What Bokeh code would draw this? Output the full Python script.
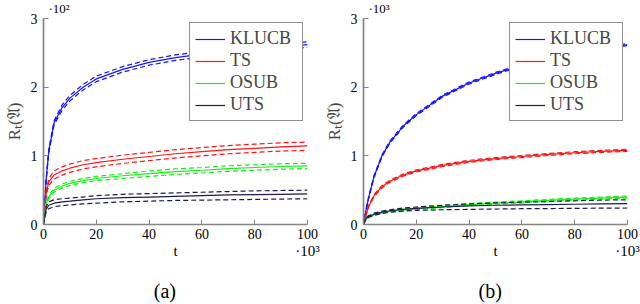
from bokeh.plotting import figure
from bokeh.models import Legend, LegendItem, Range1d, FixedTicker, LinearAxis, Title
from bokeh.layouts import row
from bokeh.embed import file_html
from bokeh.resources import INLINE

# time axis, in thousands of rounds
t = [0, 1, 2, 4, 7, 10, 15, 20, 30, 40, 50, 60, 70, 80, 90, 100]

# panel (a), regret in units of 10^2
a_klucb    = [0, 0.65, 1.07, 1.48, 1.70, 1.84, 2.00, 2.12, 2.26, 2.36, 2.43, 2.48, 2.52, 2.56, 2.59, 2.62]
a_klucb_hi = [0, 0.67, 1.10, 1.51, 1.74, 1.88, 2.04, 2.16, 2.30, 2.40, 2.47, 2.52, 2.56, 2.60, 2.63, 2.66]
a_klucb_lo = [0, 0.63, 1.04, 1.45, 1.66, 1.80, 1.96, 2.08, 2.22, 2.32, 2.39, 2.44, 2.48, 2.52, 2.55, 2.58]
a_ts       = [0, 0.45, 0.62, 0.72, 0.78, 0.82, 0.87, 0.90, 0.95, 0.99, 1.03, 1.06, 1.09, 1.11, 1.13, 1.145]
a_ts_hi    = [0, 0.48, 0.67, 0.78, 0.84, 0.88, 0.93, 0.96, 1.01, 1.05, 1.09, 1.12, 1.15, 1.17, 1.19, 1.20]
a_ts_lo    = [0, 0.42, 0.57, 0.66, 0.72, 0.76, 0.81, 0.84, 0.89, 0.93, 0.97, 1.00, 1.03, 1.05, 1.07, 1.08]
a_osub     = [0, 0.30, 0.40, 0.50, 0.56, 0.60, 0.64, 0.67, 0.71, 0.74, 0.77, 0.79, 0.815, 0.83, 0.845, 0.855]
a_osub_hi  = [0, 0.32, 0.43, 0.53, 0.59, 0.63, 0.67, 0.70, 0.74, 0.78, 0.81, 0.83, 0.855, 0.87, 0.885, 0.89]
a_osub_lo  = [0, 0.28, 0.37, 0.47, 0.53, 0.57, 0.61, 0.64, 0.67, 0.70, 0.73, 0.75, 0.775, 0.79, 0.805, 0.815]
a_uts      = [0, 0.22, 0.28, 0.31, 0.33, 0.34, 0.36, 0.375, 0.39, 0.40, 0.41, 0.42, 0.43, 0.435, 0.44, 0.445]
a_uts_hi   = [0, 0.26, 0.33, 0.36, 0.375, 0.385, 0.40, 0.42, 0.44, 0.45, 0.46, 0.47, 0.48, 0.49, 0.495, 0.50]
a_uts_lo   = [0, 0.18, 0.23, 0.26, 0.275, 0.285, 0.30, 0.31, 0.33, 0.34, 0.35, 0.355, 0.36, 0.365, 0.37, 0.375]

# panel (b), regret in units of 10^3
b_klucb    = [0, 0.22, 0.40, 0.70, 1.00, 1.20, 1.43, 1.60, 1.87, 2.06, 2.20, 2.32, 2.42, 2.50, 2.56, 2.62]
b_klucb_hi = [0, 0.23, 0.415, 0.715, 1.015, 1.215, 1.445, 1.615, 1.885, 2.075, 2.215, 2.335, 2.435, 2.515, 2.575, 2.635]
b_klucb_lo = [0, 0.21, 0.385, 0.685, 0.985, 1.185, 1.415, 1.585, 1.855, 2.045, 2.185, 2.305, 2.405, 2.485, 2.545, 2.605]
b_ts       = [0, 0.15, 0.27, 0.42, 0.55, 0.63, 0.72, 0.78, 0.86, 0.92, 0.96, 0.99, 1.02, 1.045, 1.065, 1.08]
b_ts_hi    = [0, 0.16, 0.28, 0.435, 0.565, 0.645, 0.735, 0.795, 0.875, 0.935, 0.975, 1.005, 1.035, 1.06, 1.08, 1.095]
b_ts_lo    = [0, 0.14, 0.26, 0.405, 0.535, 0.615, 0.705, 0.765, 0.845, 0.905, 0.945, 0.975, 1.005, 1.03, 1.05, 1.065]
b_osub     = [0, 0.08, 0.11, 0.14, 0.17, 0.19, 0.21, 0.23, 0.26, 0.29, 0.31, 0.33, 0.35, 0.37, 0.385, 0.40]
b_osub_hi  = [0, 0.085, 0.12, 0.15, 0.18, 0.20, 0.225, 0.245, 0.275, 0.305, 0.325, 0.345, 0.365, 0.385, 0.40, 0.415]
b_osub_lo  = [0, 0.075, 0.10, 0.13, 0.16, 0.18, 0.195, 0.215, 0.245, 0.275, 0.295, 0.315, 0.335, 0.355, 0.37, 0.385]
b_uts      = [0, 0.09, 0.12, 0.15, 0.18, 0.20, 0.22, 0.235, 0.255, 0.27, 0.28, 0.285, 0.29, 0.295, 0.30, 0.305]
b_uts_hi   = [0, 0.10, 0.13, 0.165, 0.195, 0.215, 0.24, 0.255, 0.28, 0.30, 0.315, 0.325, 0.335, 0.345, 0.355, 0.36]
b_uts_lo   = [0, 0.08, 0.11, 0.135, 0.16, 0.18, 0.195, 0.205, 0.215, 0.22, 0.225, 0.23, 0.232, 0.235, 0.238, 0.24]

names = ["KLUCB", "TS", "OSUB", "UTS"]
colors = ["#1414ff", "#ff1414", "#14f014", "#1c1c4c"]
x_ticks = [0, 20, 40, 60, 80, 100]
y_ticks = [0, 1, 2, 3]
x_name_ticks = {50: "t", 100: "·10³"}

FONT = "Liberation Serif"
FIG_W, FIG_H = 320, 304
LEFT, RIGHT, TOP, BOTTOM = 43, 13, 17, 80
AXIS_COLOR = "#858585"


def text_row(ticks_to_text, size, standoff):
    # an axis with no line and no ticks: used only to place a row of texts below the plot
    return LinearAxis(ticker=FixedTicker(ticks=list(ticks_to_text.keys())),
                      major_label_overrides=ticks_to_text,
                      axis_line_color=None, major_tick_line_color=None,
                      minor_tick_line_color=None, major_tick_in=0, major_tick_out=0,
                      major_label_standoff=standoff, major_label_text_font=FONT,
                      major_label_text_font_size=size, major_label_text_color="black")


def panel(series, y_exp, caption, caption_at):
    p = figure(width=FIG_W, height=FIG_H, output_backend="svg", toolbar_location=None,
               x_range=Range1d(0, 100), y_range=Range1d(0, 3),
               min_border_left=LEFT, min_border_right=RIGHT,
               min_border_top=TOP, min_border_bottom=BOTTOM)
    p.outline_line_color = None
    p.grid.visible = False
    p.background_fill_color = "white"
    p.border_fill_color = "white"
    for ax in (p.xaxis[0], p.yaxis[0]):
        ax.axis_line_color = AXIS_COLOR
        ax.axis_line_width = 1.7
        ax.major_tick_line_color = AXIS_COLOR
        ax.major_tick_line_width = 1
        ax.major_tick_in = 5
        ax.major_tick_out = 0
        ax.minor_tick_line_color = None
        ax.major_label_text_font = FONT
        ax.major_label_text_font_size = "14px"
        ax.major_label_text_color = "black"
    p.xaxis[0].ticker = FixedTicker(ticks=x_ticks)
    p.yaxis[0].ticker = FixedTicker(ticks=y_ticks)
    p.xaxis[0].major_label_standoff = 4
    p.yaxis[0].major_label_standoff = 6

    yax = p.yaxis[0]
    yax.axis_label = "Rₜ(𝔄)"
    yax.axis_label_text_font = FONT
    yax.axis_label_text_font_size = "17px"
    yax.axis_label_text_font_style = "normal"
    yax.axis_label_standoff = 4

    # second row under the x axis: the axis name "t" and the scale factor
    p.add_layout(text_row(x_name_ticks, "15px", 1), "below")
    # panel caption under everything
    p.add_layout(text_row({caption_at: caption}, "20px", 18), "below")

    # scale factor of the y axis, above the plot
    p.add_layout(Title(text=y_exp, align="left", offset=5, standoff=1, vertical_align="top",
                       text_font=FONT, text_font_size="13px", text_font_style="normal",
                       text_color="black"), "above")

    items = []
    for name, color, (m, hi, lo) in zip(names, colors, series):
        r = p.line(t, m, line_color=color, line_width=1.2)
        p.line(t, hi, line_color=color, line_width=1.2, line_dash="5 3")
        p.line(t, lo, line_color=color, line_width=1.2, line_dash="5 3")
        items.append(LegendItem(label=name, renderers=[r]))

    leg = Legend(items=items, location="top_right", margin=4, padding=5, spacing=1,
                 glyph_width=30, glyph_height=18, label_height=18, label_width=67,
                 label_standoff=5, label_text_font=FONT, label_text_font_size="18px",
                 border_line_color="#222222", border_line_width=1,
                 background_fill_color="white", background_fill_alpha=1.0)
    p.add_layout(leg)
    return p


pa = panel([(a_klucb, a_klucb_hi, a_klucb_lo), (a_ts, a_ts_hi, a_ts_lo),
            (a_osub, a_osub_hi, a_osub_lo), (a_uts, a_uts_hi, a_uts_lo)],
           "·10²", "(a)", 46)
pb = panel([(b_klucb, b_klucb_hi, b_klucb_lo), (b_ts, b_ts_hi, b_ts_lo),
            (b_osub, b_osub_hi, b_osub_lo), (b_uts, b_uts_hi, b_uts_lo)],
           "·10³", "(b)", 48)

layout = row(pa, pb, spacing=0)
open("out.html", "w").write(file_html(layout, INLINE))
